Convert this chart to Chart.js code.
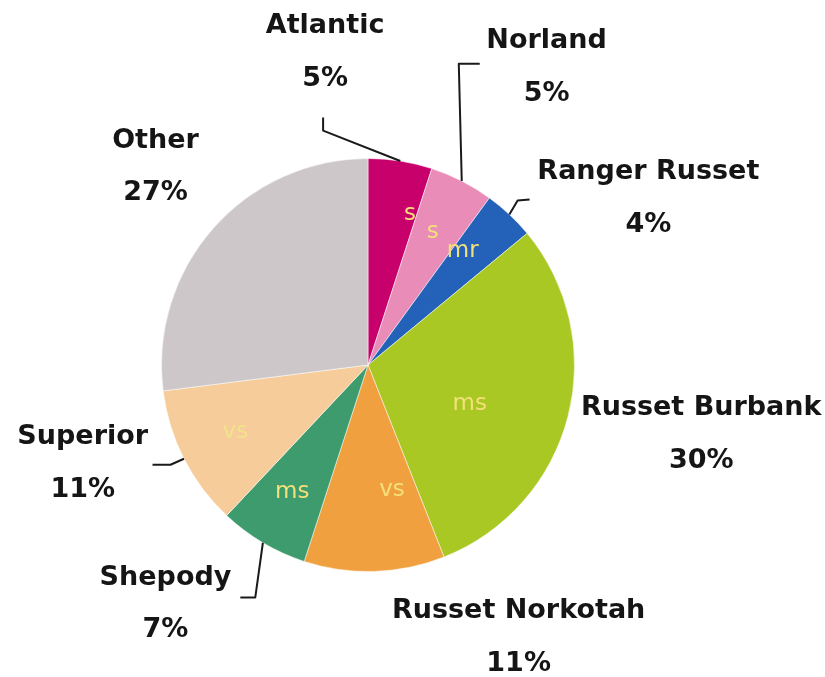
<!DOCTYPE html>
<html>
<head>
<meta charset="utf-8">
<script src="https://cdn.jsdelivr.net/npm/chart.js@4"></script>
<style>
  html,body{margin:0;padding:0;background:#fff;}
  #wrap{width:825px;height:677px;position:relative;}
</style>
</head>
<body>
<div id="wrap"><canvas id="c" width="825" height="677"></canvas></div>
<script>
// ---- data ----
const categories = ["Atlantic","Norland","Ranger Russet","Russet Burbank","Russet Norkotah","Shepody","Superior","Other"];
const shares = [5,5,4,30,11,7,11,27];
const ratings = ["s","s","mr","ms","vs","ms","vs",""];
const sliceColors = ["#c8006c","#e98db8","#2362b8","#a9c823","#f0a03e","#3d9b6d","#f6cd9a","#cec7c9"];

// ---- layout (relative to pie centre, in px at radius 207) ----
const labelPos = [[-43,-340],[179,-325],[281,-193],[334,43],[151,247],[-203,213],[-286,72],[-213,-225]];
const pctGap = 53;
const ratingPos = [[42,-151],[65,-133],[95,-114],[102,39],[24,125],[-76,127],[-133,67],null];
const leaders = [
  [[-45,-235],[-45,-248]],
  [[91,-302],[112,-302]],
  [[150,-165],[162,-166]],
  null,null,
  [[-113,233],[-128,233]],
  [[-198,100],[-216,100]],
  null
];

const labelsPlugin = {
  id:'pieLabels',
  afterDatasetsDraw(chart){
    const ctx = chart.ctx;
    const meta = chart.getDatasetMeta(0);
    meta.data.forEach((arc,i)=>{
      const p = arc.getProps(['x','y','startAngle','endAngle','outerRadius'],true);
      const s = p.outerRadius/207;
      const mid = (p.startAngle+p.endAngle)/2;
      // leader line
      if(leaders[i]){
        ctx.save();
        ctx.strokeStyle='#1a1a1a';ctx.lineWidth=2;ctx.lineJoin='round';
        ctx.beginPath();
        ctx.moveTo(p.x+Math.cos(mid)*p.outerRadius, p.y+Math.sin(mid)*p.outerRadius);
        leaders[i].forEach(pt=>ctx.lineTo(p.x+pt[0]*s,p.y+pt[1]*s));
        ctx.stroke();
        ctx.restore();
      }
      // rating inside slice
      if(ratingPos[i] && ratings[i]){
        ctx.save();
        ctx.font='23px "DejaVu Sans"';
        ctx.fillStyle = i===6 ? '#f2e28c' : '#f4e07a';
        ctx.textAlign='center';ctx.textBaseline='middle';
        ctx.fillText(ratings[i], p.x+ratingPos[i][0]*s, p.y+ratingPos[i][1]*s);
        ctx.restore();
      }
      // outer label
      ctx.save();
      ctx.font='bold 27px "DejaVu Sans"';
      ctx.fillStyle='#151515';
      ctx.textAlign='center';ctx.textBaseline='middle';
      const lx=p.x+labelPos[i][0]*s, ly=p.y+labelPos[i][1]*s;
      ctx.fillText(categories[i], lx, ly);
      ctx.fillText(shares[i]+'%', lx, ly+pctGap*s);
      ctx.restore();
    });
  }
};

new Chart(document.getElementById('c'),{
  type:'pie',
  data:{labels:categories,datasets:[{data:shares,backgroundColor:sliceColors,borderColor:'rgba(255,255,255,0.5)',borderWidth:1}]},
  options:{
    responsive:false,animation:false,
    layout:{padding:{top:158,bottom:105,left:0,right:89}},
    plugins:{legend:{display:false},tooltip:{enabled:false}}
  },
  plugins:[labelsPlugin]
});
</script>
</body>
</html>
